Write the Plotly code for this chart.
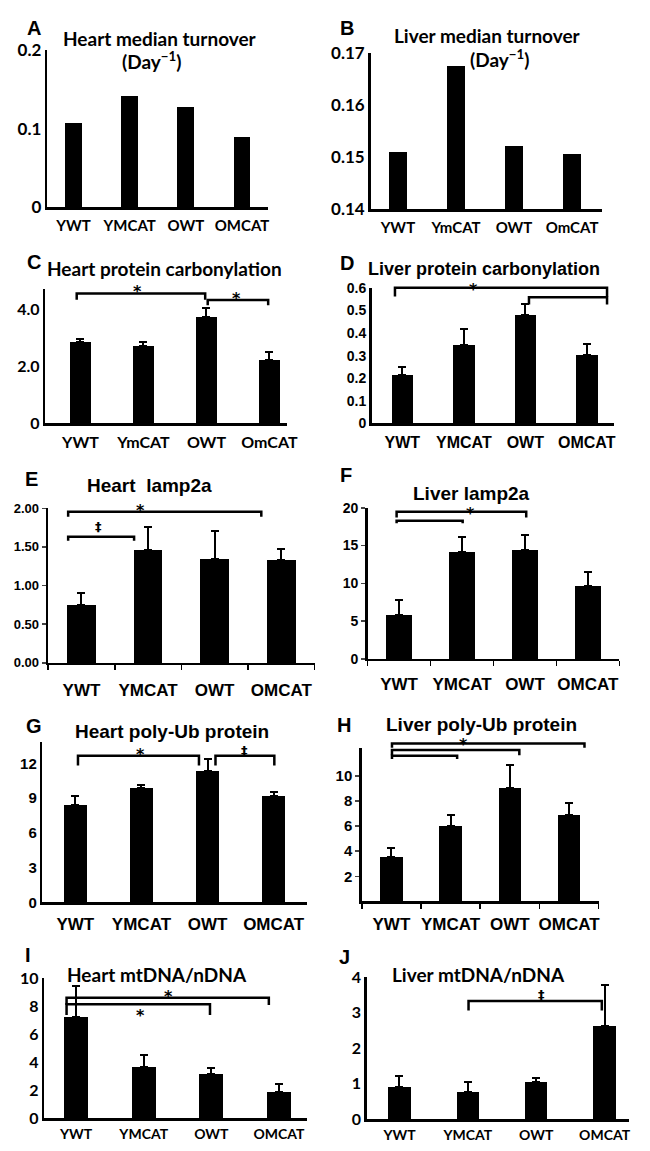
import plotly.graph_objects as go

W, H = 650, 1151

# ---------------- data ----------------
groups_upper = ["YWT", "YMCAT", "OWT", "OMCAT"]
groups_mixed = ["YWT", "YmCAT", "OWT", "OmCAT"]

heart_turnover = [0.107, 0.142, 0.128, 0.089]
liver_turnover = [0.1511, 0.1676, 0.1521, 0.1507]

heart_carb = [2.84, 2.73, 3.73, 2.21]
heart_carb_err = [0.11, 0.12, 0.33, 0.28]
liver_carb = [0.213, 0.348, 0.481, 0.301]
liver_carb_err = [0.038, 0.068, 0.046, 0.051]

heart_lamp = [0.75, 1.456, 1.35, 1.33]
heart_lamp_err = [0.15, 0.30, 0.35, 0.14]
liver_lamp = [5.84, 14.16, 14.4, 9.6]
liver_lamp_err = [1.96, 1.94, 2.0, 1.9]

heart_ub = [8.43, 9.83, 11.33, 9.19]
heart_ub_err = [0.77, 0.27, 1.07, 0.36]
liver_ub = [3.56, 6.02, 9.06, 6.88]
liver_ub_err = [0.73, 0.84, 1.81, 0.96]

heart_mt = [7.21, 3.67, 3.14, 1.86]
heart_mt_err = [2.25, 0.87, 0.46, 0.62]
liver_mt = [0.92, 0.77, 1.06, 2.62]
liver_mt_err = [0.31, 0.28, 0.09, 1.17]

# significance brackets: (from group, to group, level, drop-to level, label, label x, label y)
c_brackets = [(-0.06, 1.98, 4.56, 4.34, "*", 0.9, 4.75), (2.02, 2.98, 4.33, 4.14, "*", 2.47, 4.52)]
d_brackets = [(-0.12, 3.33, 0.601, 0.562, "*", 1.16, 0.61), (2.06, 3.33, 0.558, 0.526, "", 0, 0)]
e_brackets = [(-0.2, 0.79, 1.63, 1.58, "‡", 0.26, 1.76), (-0.2, 2.7, 1.954, 1.89, "*", 0.88, 2.02)]
f_brackets = [(-0.04, 1.01, 18.27, 17.96, "", 0, 0), (-0.04, 2.02, 19.48, 18.7, "*", 1.13, 19.75)]
g_brackets = [(0.04, 1.87, 12.65, 11.81, "*", 0.99, 13.1), (2.12, 3.01, 12.65, 11.81, "‡", 2.56, 13.1)]
h_brackets = [(0.01, 1.11, 11.6, 11.34, "", 0, 0), (0.01, 2.16, 12.07, 11.65, "", 0, 0),
              (0.01, 3.26, 12.58, 12.25, "*", 1.22, 12.85)]
i_brackets = [(-0.14, 2.85, 8.6, 8.07, "*", 1.36, 8.95), (-0.14, 1.98, 8.14, 7.37, "*", 0.95, 7.6)]
j_brackets = [(1.01, 2.96, 3.33, 3.06, "‡", 2.08, 3.5)]

LATO = "Lato, Carlito, Calibri, sans-serif"
ARIAL = "Liberation Sans, Arial, sans-serif"

panels = [
    dict(letter="A", lpos=(35, 17), title=["Heart median turnover", "(Day<sup>−1</sup>)"],
         tpos=[(163, 28), (154, 50)], vals=heart_turnover, err=None, labels=groups_upper,
         box=(48, 273, 40, 200), xr=[-0.47, 3.47], yr=[0, 0.2], yt=[0, 0.1, 0.2], ytt=["0", "0.1", "0.2"],
         bw=0.3, font=LATO, tfs=19, xfs=15, yfs=17, excel=False, br=[], stand=3),
    dict(letter="B", lpos=(353, 17), title=["Liver median turnover", "(Day<sup>−1</sup>)"],
         tpos=[(496, 25), (508, 48)], vals=liver_turnover, err=None, labels=groups_mixed,
         box=(377, 612, 43, 202), xr=[-0.47, 3.51], yr=[0.14, 0.17], yt=[0.14, 0.15, 0.16, 0.17],
         ytt=["0.14", "0.15", "0.16", "0.17"], bw=0.3, font=LATO, tfs=19, xfs=15, yfs=17, excel=False,
         br=[], stand=3),
    dict(letter="C", lpos=(35, 256), title=["Heart protein carbonylation"], tpos=[(167, 262)],
         vals=heart_carb, err=heart_carb_err, labels=groups_mixed,
         box=(46, 292, 283, 420), xr=[-0.56, 3.28], yr=[0, 4.72], yt=[0, 2, 4], ytt=["0", "2.0", "4.0"],
         bw=0.34, font=LATO, tfs=19, xfs=16, yfs=16, excel=False, br=c_brackets, stand=3),
    dict(letter="D", lpos=(353, 257), title=["Liver protein carbonylation"], tpos=[(492, 263)],
         vals=liver_carb, err=liver_carb_err, labels=groups_upper,
         box=(378, 625, 282, 420), xr=[-0.5, 3.45], yr=[0, 0.6], yt=[0, 0.1, 0.2, 0.3, 0.4, 0.5, 0.6],
         ytt=["0", "0.1", "0.2", "0.3", "0.4", "0.5", "0.6"], bw=0.35, font=ARIAL, tfs=18, xfs=16, yfs=14,
         excel=False, br=d_brackets, stand=3),
    dict(letter="E", lpos=(32, 477), title=["Heart  lamp2a"], tpos=[(152, 483)],
         vals=heart_lamp, err=heart_lamp_err, labels=groups_upper,
         box=(49, 320, 506.5, 664), xr=[-0.5, 3.5], yr=[0, 2], yt=[0, 0.5, 1, 1.5, 2],
         ytt=["0.00", "0.50", "1.00", "1.50", "2.00"], bw=0.43, font=ARIAL, tfs=19, xfs=17, yfs=13,
         excel=True, br=e_brackets, stand=10),
    dict(letter="F", lpos=(352, 473), title=["Liver lamp2a"], tpos=[(480, 491)],
         vals=liver_lamp, err=liver_lamp_err, labels=groups_upper,
         box=(374, 630, 506, 660), xr=[-0.5, 3.5], yr=[0, 20], yt=[0, 5, 10, 15, 20],
         ytt=["0", "5", "10", "15", "20"], bw=0.42, font=ARIAL, tfs=19, xfs=17, yfs=14,
         excel=True, br=f_brackets, stand=8),
    dict(letter="G", lpos=(35, 728), title=["Heart poly-Ub protein"], tpos=[(175, 734)],
         vals=heart_ub, err=heart_ub_err, labels=groups_upper,
         box=(43, 312, 745, 908), xr=[-0.5, 3.5], yr=[0, 13.8], yt=[0, 3, 6, 9, 12],
         ytt=["0", "3", "6", "9", "12"], bw=0.34, font=ARIAL, tfs=19, xfs=17, yfs=15,
         excel=False, br=g_brackets, stand=5),
    dict(letter="H", lpos=(350, 727), title=["Liver poly-Ub protein"], tpos=[(490, 727)],
         vals=liver_ub, err=liver_ub_err, labels=groups_upper,
         box=(368, 609, 751, 907), xr=[-0.5, 3.5], yr=[0, 12.2], yt=[2, 4, 6, 8, 10],
         ytt=["2", "4", "6", "8", "10"], bw=0.38, font=ARIAL, tfs=19, xfs=17, yfs=15,
         excel=True, br=h_brackets, stand=6),
    dict(letter="I", lpos=(28, 962), title=["Heart mtDNA/nDNA"], tpos=[(160, 981)],
         vals=heart_mt, err=heart_mt_err, labels=groups_upper,
         box=(45, 312, 985, 1128), xr=[-0.47, 3.41], yr=[0, 10], yt=[0, 2, 4, 6, 8, 10],
         ytt=["0", "2", "4", "6", "8", "10"], bw=0.35, font=LATO, tfs=19, xfs=14, yfs=16,
         excel=False, br=i_brackets, stand=1),
    dict(letter="J", lpos=(350, 964), title=["Liver mtDNA/nDNA"], tpos=[(487, 981)],
         vals=liver_mt, err=liver_mt_err, labels=groups_upper,
         box=(373, 640, 984, 1129), xr=[-0.48, 3.36], yr=[0, 4], yt=[0, 1, 2, 3, 4],
         ytt=["0", "1", "2", "3", "4"], bw=0.33, font=LATO, tfs=19, xfs=14, yfs=16,
         excel=False, br=j_brackets, stand=1),
]

fig = go.Figure()
annotations = []
shapes = []
layout = {}

for i, p in enumerate(panels, start=1):
    xs = "" if i == 1 else str(i)
    xref, yref = "x" + xs, "y" + xs
    left, right, top, bottom = p["box"]
    xdom = [left / W, right / W]
    ydom = [1 - bottom / H, 1 - top / H]
    ey = None
    if p["err"] is not None:
        ey = dict(type="data", array=p["err"], arrayminus=[0] * len(p["err"]), symmetric=False,
                  color="black", thickness=2, width=4)
    fig.add_trace(go.Bar(x=list(range(len(p["vals"]))), y=p["vals"], width=p["bw"],
                         marker=dict(color="black", line=dict(width=0)), error_y=ey,
                         xaxis=xref, yaxis=yref, showlegend=False, hoverinfo="skip"))
    tf = dict(family=p["font"], color="black", weight="bold")
    xa = dict(domain=xdom, range=p["xr"], anchor=yref, showline=True,
              linecolor="black", linewidth=2.5, showgrid=False, zeroline=False,
              tickmode="array", tickvals=list(range(4)), ticktext=p["labels"], ticks="",
              tickfont=dict(size=p["xfs"], **tf), ticklabelstandoff=p["stand"], fixedrange=True)
    ya = dict(domain=ydom, range=p["yr"], anchor=xref, showline=True,
              linecolor="black", linewidth=2.5, showgrid=False, zeroline=False,
              tickmode="array", tickvals=p["yt"], ticktext=p["ytt"], ticks="",
              tickfont=dict(size=p["yfs"], **tf), fixedrange=True)
    if p["excel"]:
        xa["minor"] = dict(tickvals=[-0.5, 0.5, 1.5, 2.5, 3.5], ticks="outside", ticklen=5,
                           tickwidth=1.5, tickcolor="black")
        ya["ticks"] = "outside"
        ya["ticklen"] = 4
        ya["tickwidth"] = 1.5
    layout["xaxis" + xs] = xa
    layout["yaxis" + xs] = ya

    def to_paper(xv, yv, p=p, xdom=xdom, ydom=ydom):
        fx = (xv - p["xr"][0]) / (p["xr"][1] - p["xr"][0])
        fy = (yv - p["yr"][0]) / (p["yr"][1] - p["yr"][0])
        return xdom[0] + fx * (xdom[1] - xdom[0]), ydom[0] + fy * (ydom[1] - ydom[0])

    annotations.append(dict(text="<b>%s</b>" % p["letter"], x=p["lpos"][0] / W, y=1 - p["lpos"][1] / H,
                            xref="paper", yref="paper", showarrow=False, xanchor="center", yanchor="middle",
                            font=dict(family=ARIAL, size=20, color="black")))
    for t, (tx, ty) in zip(p["title"], p["tpos"]):
        annotations.append(dict(text=t, x=tx / W, y=1 - ty / H, xref="paper", yref="paper",
                                showarrow=False, xanchor="center", yanchor="middle",
                                font=dict(family=p["font"], size=p["tfs"], color="black", weight="bold")))
    for (x0, x1, yl, yd, lab, lx, ly) in p["br"]:
        px0, pyd = to_paper(x0, yd)
        px1, pyl = to_paper(x1, yl)
        shapes.append(dict(type="path", xref="paper", yref="paper",
                           path="M %g,%g L %g,%g L %g,%g L %g,%g" % (px0, pyd, px0, pyl, px1, pyl, px1, pyd),
                           line=dict(color="black", width=2.5)))
        if lab:
            ax_, ay_ = to_paper(lx, ly)
            annotations.append(dict(text=lab, x=ax_, y=ay_, xref="paper", yref="paper", showarrow=False,
                                    xanchor="center", yanchor="middle",
                                    yshift=-4 if lab == "*" else 0,
                                    font=dict(family="DejaVu Sans", size=16 if lab == "*" else 13,
                                              color="black", weight="bold")))

fig.update_layout(width=W, height=H, margin=dict(l=0, r=0, t=0, b=0),
                  paper_bgcolor="white", plot_bgcolor="white",
                  annotations=annotations, shapes=shapes, bargap=0, **layout)

fig.write_html("out.html", config={"displayModeBar": False, "staticPlot": True},
               post_script="document.body.style.margin='0';document.body.style.padding='0';")
